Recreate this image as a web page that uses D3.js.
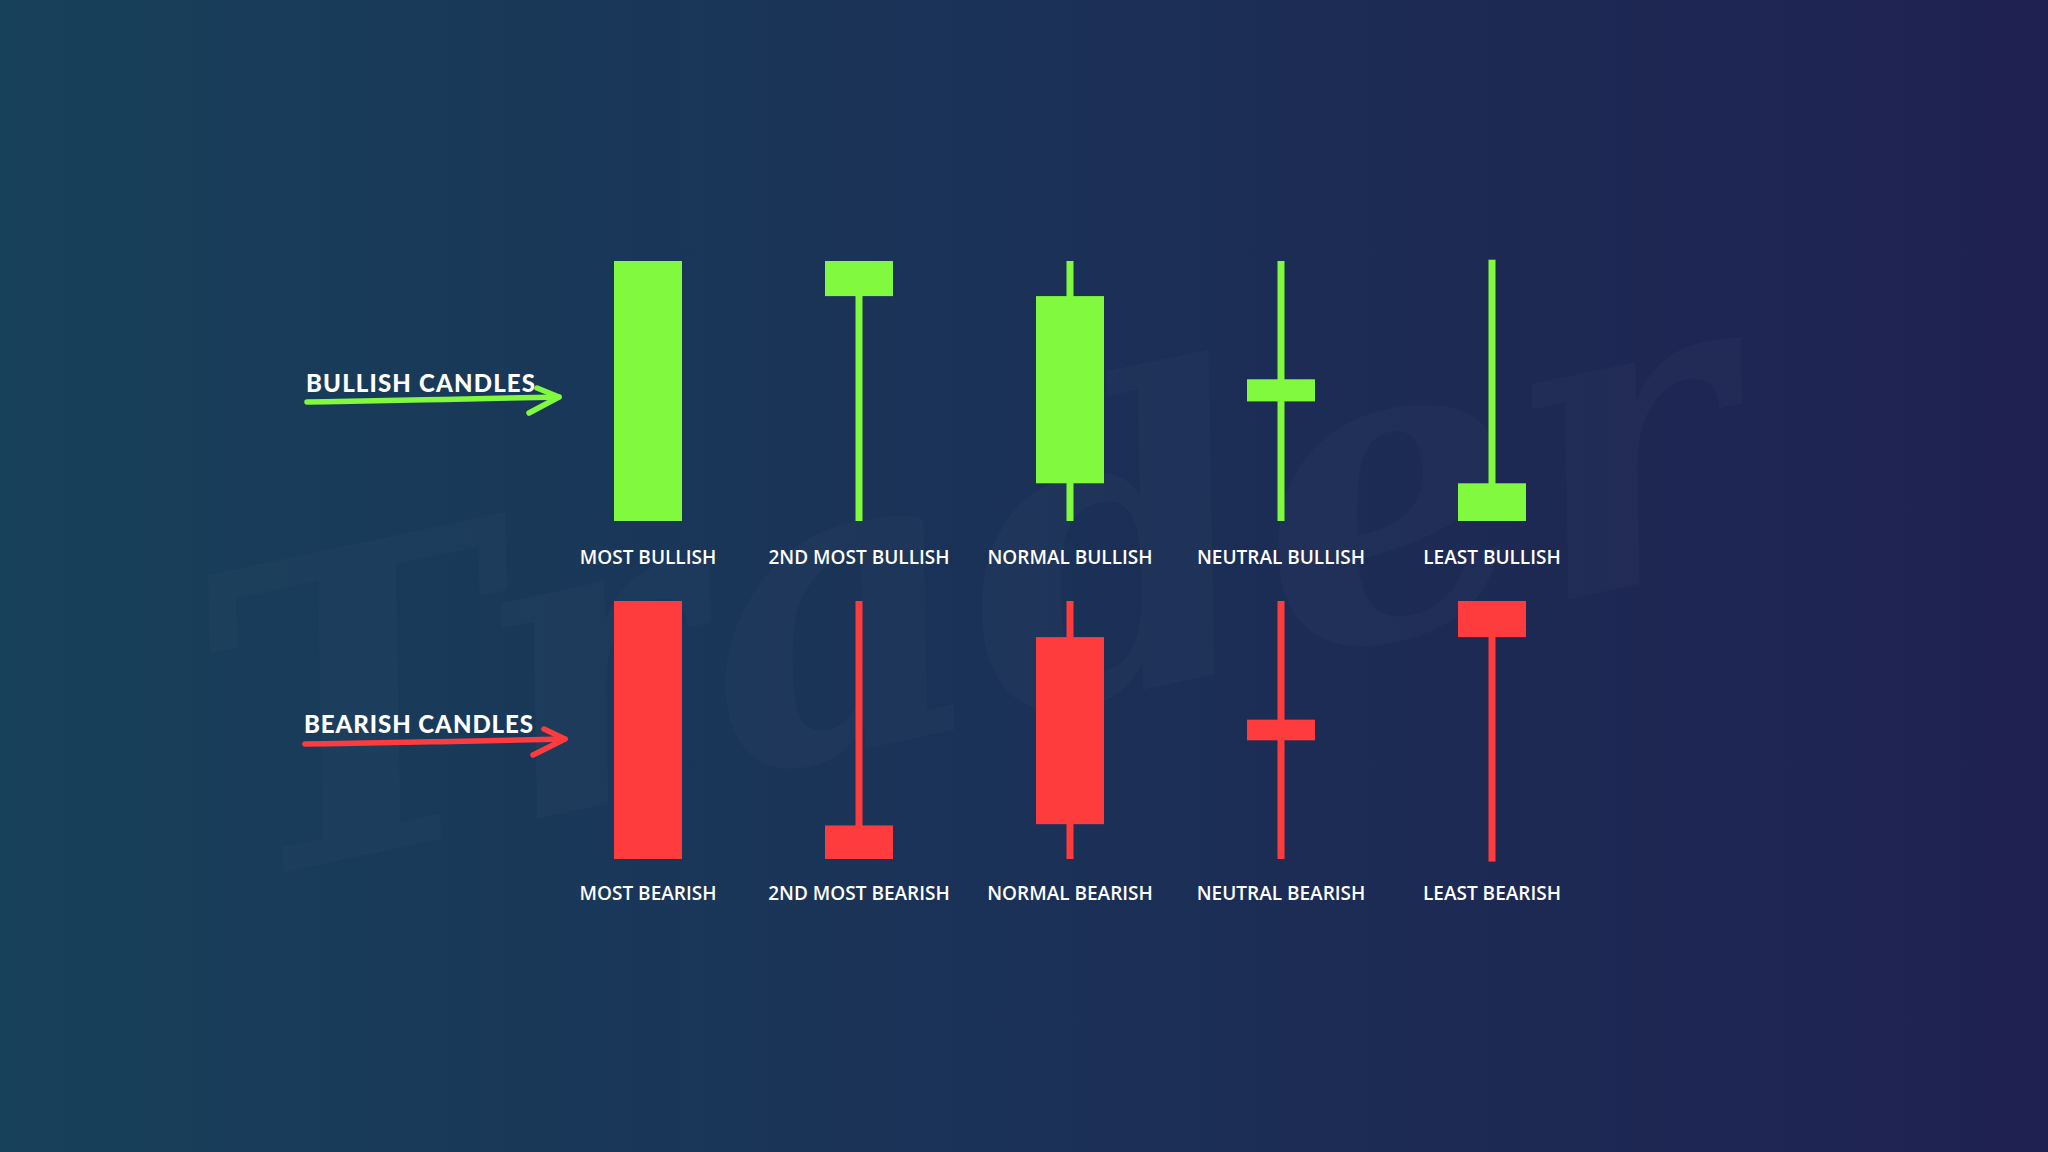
<!DOCTYPE html>
<html lang="en">
<head>
    <meta charset="UTF-8">
    <script src="https://cdn.jsdelivr.net/npm/d3@7"></script>
    <title>Candles</title>
    <style>
        html, body { margin: 0; padding: 0; overflow: hidden; }
    </style>
</head>
<body>
    <svg width="2048" height="1152"></svg>
    <script>
        // candle names, one array per row
        const bullNames = ['MOST BULLISH', '2ND MOST BULLISH', 'NORMAL BULLISH', 'NEUTRAL BULLISH', 'LEAST BULLISH'];
        const bearNames = ['MOST BEARISH', '2ND MOST BEARISH', 'NORMAL BEARISH', 'NEUTRAL BEARISH', 'LEAST BEARISH'];

        // open / close / high / low on a 0..100 scale
        const bullOpen  = [0, 86.5, 14.5, 46, 0];
        const bullClose = [100, 100, 86.5, 54.5, 14.5];
        const bullHigh  = [100, 100, 100, 100, 100.5];
        const bullLow   = [0, 0, 0, 0, 0];

        const bearOpen  = [100, 13, 86, 54, 100];
        const bearClose = [0, 0, 13.5, 46, 86];
        const bearHigh  = [100, 100, 100, 100, 100];
        const bearLow   = [0, 0, 0, 0, -1];

        const rowTitles = ['BULLISH CANDLES', 'BEARISH CANDLES'];

        const svg = d3.select('svg');
        const W = 2048, H = 1152;

        // background
        const defs = svg.append('defs');
        const grad = defs.append('linearGradient').attr('id', 'bg')
            .attr('x1', 0).attr('y1', 0).attr('x2', 1).attr('y2', 0);
        grad.append('stop').attr('offset', '0%').attr('stop-color', '#17405a');
        grad.append('stop').attr('offset', '50%').attr('stop-color', '#1b3157');
        grad.append('stop').attr('offset', '100%').attr('stop-color', '#1f2150');
        svg.append('rect').attr('width', W).attr('height', H).attr('fill', 'url(#bg)');

        // faint watermark
        svg.append('text')
            .attr('transform', 'translate(1000,720) rotate(-12)')
            .attr('text-anchor', 'middle')
            .style('font-family', 'DejaVu Serif')
            .style('font-style', 'italic')
            .style('font-weight', 'bold')
            .style('font-size', '420px')
            .attr('fill', '#ffffff')
            .attr('opacity', 0.016)
            .text('Trader');

        const x = d3.scalePoint()
            .domain(d3.range(bullNames.length))
            .range([648, 1492]);

        const bodyW = 68, wickW = 7;

        const rows = [
            { names: bullNames, open: bullOpen, close: bullClose, high: bullHigh, low: bullLow,
              y: d3.scaleLinear().domain([0, 100]).range([521, 261]), color: '#80f93f', labelY: 557 },
            { names: bearNames, open: bearOpen, close: bearClose, high: bearHigh, low: bearLow,
              y: d3.scaleLinear().domain([0, 100]).range([859, 601]), color: '#fe3c3d', labelY: 893 }
        ];

        rows.forEach(function(r) {
            const data = r.names.map(function(n, i) {
                return { name: n, i: i, o: r.open[i], c: r.close[i], h: r.high[i], l: r.low[i] };
            });
            const g = svg.append('g');

            // wicks
            g.selectAll('rect.wick')
                .data(data)
                .enter()
                .append('rect')
                .attr('class', 'wick')
                .attr('x', d => x(d.i) - wickW / 2)
                .attr('y', d => r.y(d.h))
                .attr('width', wickW)
                .attr('height', d => r.y(d.l) - r.y(d.h))
                .attr('fill', r.color);

            // bodies
            g.selectAll('rect.body')
                .data(data)
                .enter()
                .append('rect')
                .attr('class', 'body')
                .attr('x', d => x(d.i) - bodyW / 2)
                .attr('y', d => r.y(Math.max(d.o, d.c)))
                .attr('width', bodyW)
                .attr('height', d => Math.abs(r.y(d.o) - r.y(d.c)))
                .attr('fill', r.color);

            // labels
            g.selectAll('text')
                .data(data)
                .enter()
                .append('text')
                .attr('x', d => x(d.i))
                .attr('y', r.labelY)
                .attr('text-anchor', 'middle')
                .attr('dominant-baseline', 'central')
                .style('font-family', '"Open Sans", sans-serif')
                .style('font-weight', 600)
                .style('font-size', '19px')
                .attr('fill', '#ffffff')
                .text(d => d.name);
        });

        // row titles with hand drawn arrows
        const titles = [
            { text: rowTitles[0], color: '#80f93f', tx: 306, ty: 392,
              line: [[307, 402], [420, 400], [559, 397]], head: [[537, 388], [559, 397], [529, 413]] },
            { text: rowTitles[1], color: '#fe3c3d', tx: 304, ty: 733,
              line: [[305, 744], [430, 742], [565, 739]], head: [[544, 729], [565, 739], [533, 755]] }
        ];

        const arrowLine = d3.line().curve(d3.curveBasis);
        titles.forEach(function(t) {
            svg.append('text')
                .attr('x', t.tx)
                .attr('y', t.ty)
                .attr('textLength', 229)
                .style('font-family', 'Lato, sans-serif')
                .style('font-weight', 900)
                .style('font-size', '24px')
                .attr('fill', '#ffffff')
                .text(t.text);
            svg.append('path')
                .attr('d', arrowLine(t.line))
                .attr('stroke', t.color)
                .attr('stroke-width', 5.5)
                .attr('stroke-linecap', 'round')
                .attr('fill', 'none');
            svg.append('path')
                .attr('d', d3.line()(t.head))
                .attr('stroke', t.color)
                .attr('stroke-width', 5.5)
                .attr('stroke-linecap', 'round')
                .attr('stroke-linejoin', 'round')
                .attr('fill', 'none');
        });
    </script>
</body>
</html>
